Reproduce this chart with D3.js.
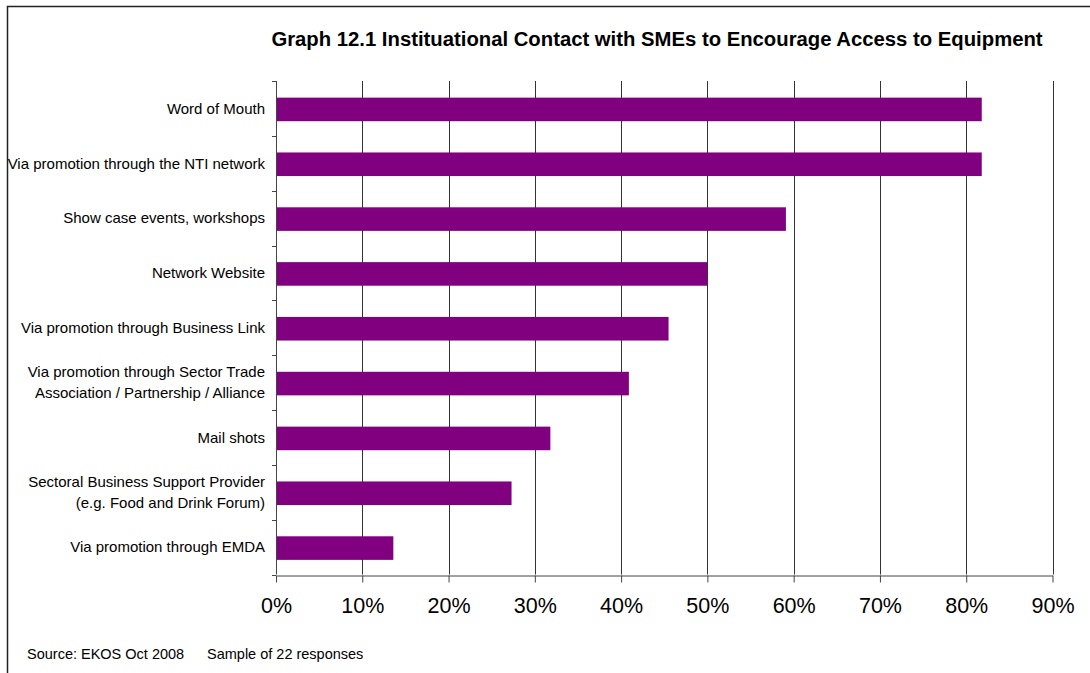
<!DOCTYPE html>
<html>
<head>
<meta charset="utf-8">
<script src="https://cdn.jsdelivr.net/npm/d3@7"></script>
<style>
  html, body { margin: 0; padding: 0; background: #fff; }
  svg { display: block; font-family: "Liberation Sans", Arial, sans-serif; }
</style>
</head>
<body>
<svg id="chart" width="1090" height="673"></svg>
<script>
// Channels of institutional contact (each label may wrap onto two lines)
const categories = [
  ["Word of Mouth"],
  ["Via promotion through the NTI network"],
  ["Show case events, workshops"],
  ["Network Website"],
  ["Via promotion through Business Link"],
  ["Via promotion through Sector Trade", "Association / Partnership / Alliance"],
  ["Mail shots"],
  ["Sectoral Business Support Provider", "(e.g. Food and Drink Forum)"],
  ["Via promotion through EMDA"]
];
// Share of the 22 responding institutions (%)
const shares = [81.8, 81.8, 59.1, 50.0, 45.5, 40.9, 31.8, 27.3, 13.6];
const xTicks = [0, 10, 20, 30, 40, 50, 60, 70, 80, 90];

const titleText = "Graph 12.1 Instituational Contact with SMEs to Encourage Access to Equipment";
const sourceText = "Source: EKOS Oct 2008";
const sampleText = "Sample of 22 responses";

const svg = d3.select("#chart");
const W = 1090, H = 673;
const plot = { left: 276, right: 1052.5, top: 81, bottom: 574.5 };

// outer frame
svg.append("path")
  .attr("d", `M7.5,${H + 2} V6.5 H${W + 2}`)
  .attr("fill", "none").attr("stroke", "#222").attr("stroke-width", 1.5);

const x = d3.scaleLinear().domain([0, 90]).range([plot.left, plot.right]);
const ids = categories.map((c, i) => i);
const y = d3.scaleBand().domain(ids).range([plot.top, plot.bottom])
  .paddingInner(0.57).paddingOuter(0.285);
const yTick = d3.scaleBand().domain(ids).range([plot.top, plot.bottom]);

// vertical gridlines
svg.append("g").selectAll("line").data(xTicks.slice(1)).join("line")
  .attr("x1", d => Math.round(x(d)) + 0.5).attr("x2", d => Math.round(x(d)) + 0.5)
  .attr("y1", plot.top).attr("y2", plot.bottom)
  .attr("stroke", "#333").attr("stroke-width", 1);

// bars
svg.append("g").selectAll("rect").data(shares).join("rect")
  .attr("x", x(0))
  .attr("y", (d, i) => y(i) + 1)
  .attr("width", d => x(d) - x(0))
  .attr("height", y.bandwidth())
  .attr("fill", "#800080");

// bottom axis
const xAxis = d3.axisBottom(x).tickValues(xTicks).tickFormat(d => d + "%")
  .tickSize(7).tickSizeOuter(0).tickPadding(15);
const gx = svg.append("g").attr("transform", `translate(0,${Math.round(plot.bottom) + 0.5})`).call(xAxis);
gx.selectAll("path, line").attr("stroke", "#444");
gx.selectAll("text").attr("font-size", 21.5).attr("fill", "#000")
  .attr("font-family", "Liberation Sans, Arial, sans-serif");

// left axis with ticks between categories
const gy = svg.append("g");
gy.append("line")
  .attr("x1", plot.left + 0.5).attr("x2", plot.left + 0.5)
  .attr("y1", plot.top).attr("y2", plot.bottom)
  .attr("stroke", "#444");
const boundaries = ids.map(i => yTick(i)).concat([plot.bottom]);
gy.selectAll("line.tick").data(boundaries).join("line").attr("class", "tick")
  .attr("x1", plot.left - 4).attr("x2", plot.left)
  .attr("y1", d => Math.round(d) + 0.5).attr("y2", d => Math.round(d) + 0.5)
  .attr("stroke", "#444");

// category labels
const lab = svg.append("g").attr("font-size", 15).attr("fill", "#000").attr("text-anchor", "end");
categories.forEach((lines, i) => {
  const cy = yTick(i) + yTick.bandwidth() / 2;
  const lh = 21;
  const t = lab.append("text").attr("x", 265);
  lines.forEach((s, j) => {
    t.append("tspan").attr("x", 265)
      .attr("y", cy + (j - (lines.length - 1) / 2) * lh)
      .attr("dy", "0.35em").text(s);
  });
});

// title
svg.append("text").attr("x", 657).attr("y", 46).attr("text-anchor", "middle")
  .attr("font-size", 20.3).attr("font-weight", "bold").attr("fill", "#000").text(titleText);

// footnotes
svg.append("text").attr("x", 27).attr("y", 659).attr("font-size", 14.5).attr("fill", "#000").text(sourceText);
svg.append("text").attr("x", 207).attr("y", 659).attr("font-size", 14.5).attr("fill", "#000").text(sampleText);
</script>
</body>
</html>
